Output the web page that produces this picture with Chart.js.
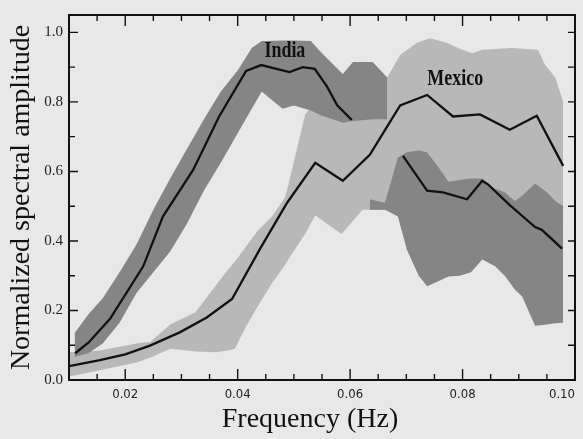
<!DOCTYPE html>
<html>
<head>
<meta charset="utf-8">
<script src="https://cdn.jsdelivr.net/npm/chart.js@4.4.0/dist/chart.umd.min.js"></script>
<style>
  html, body { margin: 0; padding: 0; background: #e8e8e8; }
</style>
</head>
<body>
<canvas id="myChart" width="583" height="439"></canvas>
<script>
// India mean curve (two pieces, gap in between)
const indiaFreqA = [0.0111, 0.0135, 0.0173, 0.0232, 0.0267, 0.0321, 0.0367, 0.0415, 0.0442, 0.0469, 0.0492, 0.0516, 0.0537, 0.0559, 0.0577, 0.0603];
const indiaAmpA  = [0.077, 0.108, 0.176, 0.327, 0.47, 0.605, 0.758, 0.889, 0.906, 0.895, 0.886, 0.90, 0.895, 0.844, 0.79, 0.748];
const indiaFreqB = [0.0694, 0.0737, 0.0765, 0.0808, 0.0835, 0.0845, 0.0884, 0.0929, 0.0941, 0.0977];
const indiaAmpB  = [0.645, 0.545, 0.54, 0.52, 0.573, 0.563, 0.503, 0.44, 0.432, 0.378];

// India scatter band
const indiaBandFreqA = [0.011, 0.0135, 0.016, 0.019, 0.022, 0.025, 0.028, 0.031, 0.034, 0.037, 0.040, 0.0425, 0.0443, 0.045, 0.048, 0.050, 0.053, 0.055, 0.0587, 0.0605, 0.064, 0.0666];
const indiaUpperA = [0.135, 0.19, 0.235, 0.31, 0.39, 0.49, 0.58, 0.665, 0.75, 0.83, 0.89, 0.955, 0.975, 0.975, 0.977, 0.977, 0.975, 0.94, 0.88, 0.915, 0.915, 0.87];
const indiaLowerA = [0.066, 0.078, 0.105, 0.165, 0.25, 0.31, 0.37, 0.45, 0.545, 0.625, 0.71, 0.78, 0.83, 0.82, 0.78, 0.79, 0.775, 0.76, 0.74, 0.745, 0.75, 0.75];
const indiaBandFreqB = [0.0635, 0.0662, 0.0685, 0.0701, 0.0722, 0.0737, 0.0758, 0.0775, 0.0795, 0.0815, 0.0835, 0.0858, 0.0875, 0.0893, 0.0906, 0.0929, 0.0950, 0.0965, 0.0979];
const indiaUpperB = [0.52, 0.51, 0.64, 0.655, 0.66, 0.655, 0.61, 0.57, 0.575, 0.58, 0.58, 0.55, 0.54, 0.515, 0.53, 0.565, 0.54, 0.515, 0.50];
const indiaLowerB = [0.49, 0.49, 0.47, 0.375, 0.30, 0.27, 0.285, 0.298, 0.30, 0.31, 0.347, 0.327, 0.30, 0.26, 0.24, 0.156, 0.16, 0.163, 0.165];

// Mexico mean curve
const mexFreq = [0.0100, 0.0155, 0.0200, 0.0244, 0.0297, 0.0345, 0.0390, 0.0440, 0.0488, 0.0538, 0.0587, 0.0635, 0.0689, 0.0737, 0.0783, 0.0831, 0.0884, 0.0932, 0.0979];
const mexAmp  = [0.04, 0.057, 0.074, 0.099, 0.137, 0.18, 0.233, 0.378, 0.51, 0.625, 0.573, 0.648, 0.79, 0.82, 0.758, 0.764, 0.72, 0.76, 0.616];

// Mexico scatter band
const mexBandFreq = [0.0100, 0.0155, 0.0220, 0.0245, 0.0280, 0.0325, 0.0360, 0.0383, 0.0395, 0.0413, 0.0436, 0.0461, 0.0484, 0.0490, 0.0520, 0.0538, 0.0558, 0.0585, 0.0622, 0.0666, 0.0689, 0.0719, 0.0742, 0.0772, 0.0792, 0.0817, 0.0835, 0.0888, 0.0934, 0.0947, 0.0965, 0.0979];
const mexUpper = [0.08, 0.085, 0.105, 0.11, 0.16, 0.195, 0.27, 0.318, 0.34, 0.38, 0.43, 0.47, 0.525, 0.56, 0.764, 0.80, 0.82, 0.84, 0.86, 0.87, 0.935, 0.97, 0.983, 0.97, 0.955, 0.94, 0.95, 0.955, 0.95, 0.906, 0.87, 0.80];
const mexLower = [0.01, 0.028, 0.05, 0.065, 0.09, 0.082, 0.08, 0.085, 0.09, 0.148, 0.213, 0.278, 0.33, 0.347, 0.42, 0.474, 0.45, 0.42, 0.49, 0.49, 0.48, 0.46, 0.45, 0.45, 0.45, 0.45, 0.45, 0.45, 0.45, 0.45, 0.45, 0.45];

const xTicks = ['0.02', '0.04', '0.06', '0.08', '0.10'];
const yTicks = ['0.0', '0.2', '0.4', '0.6', '0.8', '1.0'];

const pts = (xs, ys) => xs.map((x, i) => ({ x: x, y: ys[i] }));
const indiaLine = pts(indiaFreqA, indiaAmpA).concat([{ x: 0.065, y: null }], pts(indiaFreqB, indiaAmpB));

const darkBand = '#858585';
const lightBand = '#b8b8b8';

function isMult(v, step) {
    const r = v / step;
    return Math.abs(r - Math.round(r)) < 1e-6;
}

const decor = {
    id: 'decor',
    afterDraw(chart) {
        const ctx = chart.ctx;
        const a = chart.chartArea;
        const x = chart.scales.x;
        const y = chart.scales.y;
        ctx.save();
        ctx.strokeStyle = '#111';
        ctx.lineWidth = 1.4;
        x.ticks.forEach(t => {
            const px = x.getPixelForValue(t.value);
            if (px <= a.left + 1 || px >= a.right - 1) return;
            const L = isMult(t.value, 0.02) ? 11 : 6;
            ctx.beginPath();
            ctx.moveTo(px, a.bottom); ctx.lineTo(px, a.bottom - L);
            ctx.moveTo(px, a.top); ctx.lineTo(px, a.top + L);
            ctx.stroke();
        });
        y.ticks.forEach(t => {
            const py = y.getPixelForValue(t.value);
            if (py <= a.top + 1 || py >= a.bottom - 1) return;
            const L = isMult(t.value, 0.2) ? 9 : 6;
            ctx.beginPath();
            ctx.moveTo(a.left, py); ctx.lineTo(a.left + L, py);
            ctx.moveTo(a.right, py); ctx.lineTo(a.right - 7, py);
            ctx.stroke();
        });
        ctx.lineWidth = 2;
        ctx.strokeRect(a.left, a.top, a.right - a.left, a.bottom - a.top);

        // series labels
        ctx.fillStyle = '#111';
        ctx.font = 'bold 23px "Liberation Serif"';
        ctx.textAlign = 'center';
        ctx.textBaseline = 'alphabetic';
        [['India', 0.0484, 0.93], ['Mexico', 0.0787, 0.85]].forEach(([txt, fx, fy]) => {
            ctx.save();
            ctx.translate(x.getPixelForValue(fx), y.getPixelForValue(fy));
            ctx.scale(0.78, 1);
            ctx.fillText(txt, 0, 0);
            ctx.restore();
        });

        // x axis title
        ctx.font = '28px "Liberation Serif"';
        ctx.fillText('Frequency (Hz)', 310, 427);
        ctx.restore();
    }
};

const ctx = document.getElementById('myChart').getContext('2d');
new Chart(ctx, {
    type: 'line',
    data: {
        datasets: [
            { data: indiaLine, borderColor: '#111', borderWidth: 2.3, pointRadius: 0, fill: false, spanGaps: false, order: 0 },
            { data: pts(mexFreq, mexAmp), borderColor: '#111', borderWidth: 2.3, pointRadius: 0, fill: false, order: 0 },
            { data: pts(indiaBandFreqA, indiaLowerA), borderWidth: 0, pointRadius: 0, fill: false, order: 1 },
            { data: pts(indiaBandFreqA, indiaUpperA), borderWidth: 0, pointRadius: 0, fill: '-1', backgroundColor: darkBand, order: 1 },
            { data: pts(indiaBandFreqB, indiaLowerB), borderWidth: 0, pointRadius: 0, fill: false, order: 1 },
            { data: pts(indiaBandFreqB, indiaUpperB), borderWidth: 0, pointRadius: 0, fill: '-1', backgroundColor: darkBand, order: 1 },
            { data: pts(mexBandFreq, mexLower), borderWidth: 0, pointRadius: 0, fill: false, order: 2 },
            { data: pts(mexBandFreq, mexUpper), borderWidth: 0, pointRadius: 0, fill: '-1', backgroundColor: lightBand, order: 2 }
        ]
    },
    options: {
        responsive: false,
        animation: false,
        devicePixelRatio: 1,
        layout: { padding: { top: 11, right: 8, left: 0, bottom: 0 } },
        plugins: { legend: { display: false }, tooltip: { enabled: false } },
        elements: { line: { tension: 0 } },
        scales: {
            x: {
                type: 'linear',
                min: 0.01,
                max: 0.1,
                grid: { display: false, drawTicks: false },
                border: { display: false },
                ticks: {
                    stepSize: 0.005,
                    autoSkip: false,
                    maxRotation: 0,
                    align: 'inner',
                    padding: 7,
                    color: '#222',
                    font: { family: '"Liberation Sans Narrow", "DejaVu Sans Condensed", sans-serif', size: 13 },
                    callback: v => {
                        const s = v.toFixed(2);
                        return isMult(v, 0.02) && xTicks.includes(s) ? s : '';
                    }
                },
                afterFit: s => { s.height = 59; s.paddingLeft = 0; s.paddingRight = 0; }
            },
            y: {
                min: 0,
                max: 1.05,
                grid: { display: false, drawTicks: false },
                border: { display: false },
                ticks: {
                    stepSize: 0.1,
                    padding: 6,
                    color: '#222',
                    font: { family: '"Liberation Serif"', size: 15 },
                    callback: v => {
                        const s = v.toFixed(1);
                        return isMult(v, 0.2) && yTicks.includes(s) ? s : '';
                    }
                },
                title: {
                    display: true,
                    text: 'Normalized spectral amplitude',
                    color: '#111',
                    font: { family: '"Liberation Serif"', size: 28 },
                    padding: { top: 5, bottom: 0 }
                },
                afterFit: s => { s.width = 69; }
            }
        }
    },
    plugins: [decor]
});
</script>
</body>
</html>
